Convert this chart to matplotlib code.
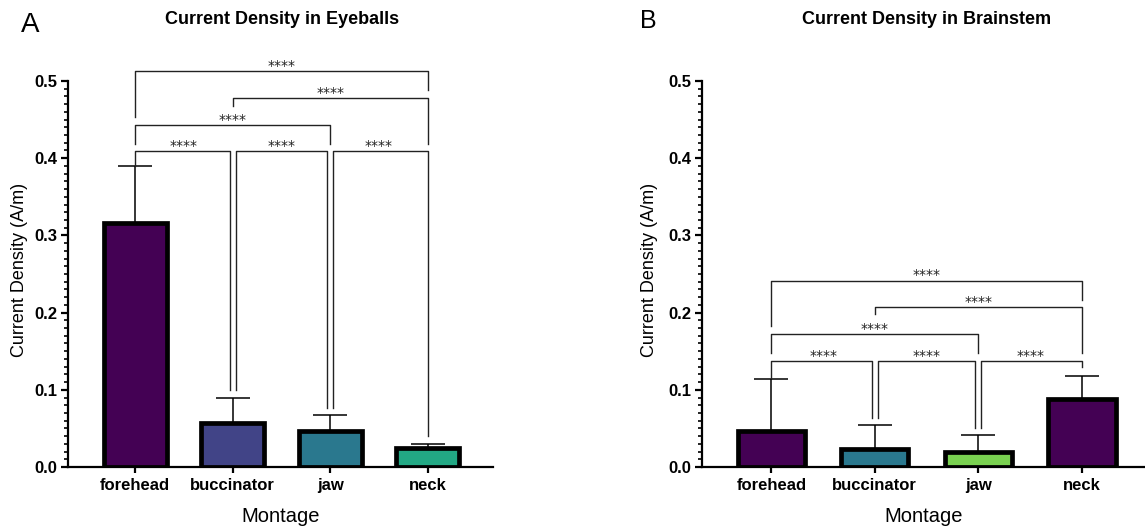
import matplotlib
matplotlib.use("Agg")
import matplotlib.pyplot as plt
from matplotlib.ticker import MultipleLocator

plt.rcParams['font.family'] = ['Liberation Sans', 'DejaVu Sans']

montages = ["forehead", "buccinator", "jaw", "neck"]

# current density (A/m), mean and SD
eye_mean = [0.316, 0.057, 0.046, 0.025]
eye_sd = [0.074, 0.033, 0.021, 0.005]
brain_mean = [0.046, 0.023, 0.019, 0.088]
brain_sd = [0.068, 0.031, 0.023, 0.0305]

eye_colors = ["#440154", "#414487", "#2a788e", "#22a884"]
brain_colors = ["#440154", "#2a788e", "#7ad151", "#440154"]

# comparisons: (bar a, bar b, bracket level, leg bottom a, leg bottom b)
eye_pairs = [
    (0, 1, 0.409, 0.390, 0.100),
    (1, 2, 0.409, 0.100, 0.077),
    (2, 3, 0.409, 0.077, 0.040),
    (0, 2, 0.443, 0.418, 0.418),
    (1, 3, 0.478, 0.468, 0.418),
    (0, 3, 0.513, 0.453, 0.488),
]
brain_pairs = [
    (0, 1, 0.1375, 0.115, 0.063),
    (1, 2, 0.1375, 0.063, 0.050),
    (2, 3, 0.1375, 0.050, 0.129),
    (0, 2, 0.1725, 0.148, 0.148),
    (1, 3, 0.207, 0.198, 0.148),
    (0, 3, 0.2415, 0.183, 0.2165),
]
stars = "****"

W, H = 1145, 526
fig = plt.figure(figsize=(W / 100, H / 100), dpi=100)


def px_axes(x0, x1, y0, y1):
    return fig.add_axes([x0 / W, 1 - y1 / H, (x1 - x0) / W, (y1 - y0) / H])


def draw_panel(ax, means, sds, colors, pairs, xlim):
    x = list(range(len(means)))
    ax.errorbar(x, means, yerr=[[0] * len(sds), sds], fmt="none",
                ecolor="black", elinewidth=1.1, capsize=12, capthick=1.1,
                zorder=1)
    ax.bar(x, means, width=0.65, color=colors, edgecolor="black",
           linewidth=3.4, zorder=2)

    n = len(means)
    for a, b, lvl, ba, bb in pairs:
        xa, xb = a, b
        if b - a == 1:
            if a != 0:
                xa += 0.03
            if b != n - 1:
                xb -= 0.03
        ax.plot([xa, xa, xb, xb], [ba, lvl, lvl, bb], color="#222222",
                lw=1.0, clip_on=False, zorder=3)
        ax.text((a + b) / 2, lvl + 0.0015, stars, ha="center",
                va="baseline", fontsize=10, family="DejaVu Sans",
                color="#222222")

    ax.set_xlim(*xlim)
    ax.set_ylim(0, 0.5)
    ax.set_xticks(x)
    ax.set_xticklabels(montages, fontsize=12, fontweight="bold")
    ax.yaxis.set_major_locator(MultipleLocator(0.1))
    ax.yaxis.set_minor_locator(MultipleLocator(0.01))
    ax.set_yticks([0.0, 0.1, 0.2, 0.3, 0.4, 0.5])
    ax.set_yticklabels(["0.0", "0.1", "0.2", "0.3", "0.4", "0.5"],
                       fontsize=12, fontweight="bold")
    ax.tick_params(axis="y", which="major", length=5, width=1.6, pad=3)
    ax.tick_params(axis="y", which="minor", length=3, width=1.2)
    ax.tick_params(axis="x", which="major", length=4, width=1.6, pad=4)
    for s in ["top", "right"]:
        ax.spines[s].set_visible(False)
    for s in ["left", "bottom"]:
        ax.spines[s].set_linewidth(1.6)
    ax.set_xlabel("Montage", fontsize=14.5, labelpad=10)
    ax.set_ylabel("Current Density (A/m)", fontsize=13)


ax1 = px_axes(68, 493, 81, 467)
draw_panel(ax1, eye_mean, eye_sd, eye_colors, eye_pairs, (-0.69, 3.67))
ax1.yaxis.set_label_coords(-0.094, 0.51)

ax2 = px_axes(702, 1145, 81, 467)
draw_panel(ax2, brain_mean, brain_sd, brain_colors, brain_pairs, (-0.67, 3.61))
ax2.yaxis.set_label_coords(-0.099, 0.51)

fig.text(282.5 / W, 1 - 20 / H, "Current Density in Eyeballs",
         ha="center", va="center", fontsize=13, fontweight="bold")
fig.text(926.7 / W, 1 - 20 / H, "Current Density in Brainstem",
         ha="center", va="center", fontsize=13, fontweight="bold")
fig.text(30.5 / W, 1 - 25.5 / H, "A", ha="center", va="center", fontsize=20)
fig.text(648.7 / W, 1 - 21 / H, "B", ha="center", va="center", fontsize=18)

fig.savefig("out.png", dpi=100)
